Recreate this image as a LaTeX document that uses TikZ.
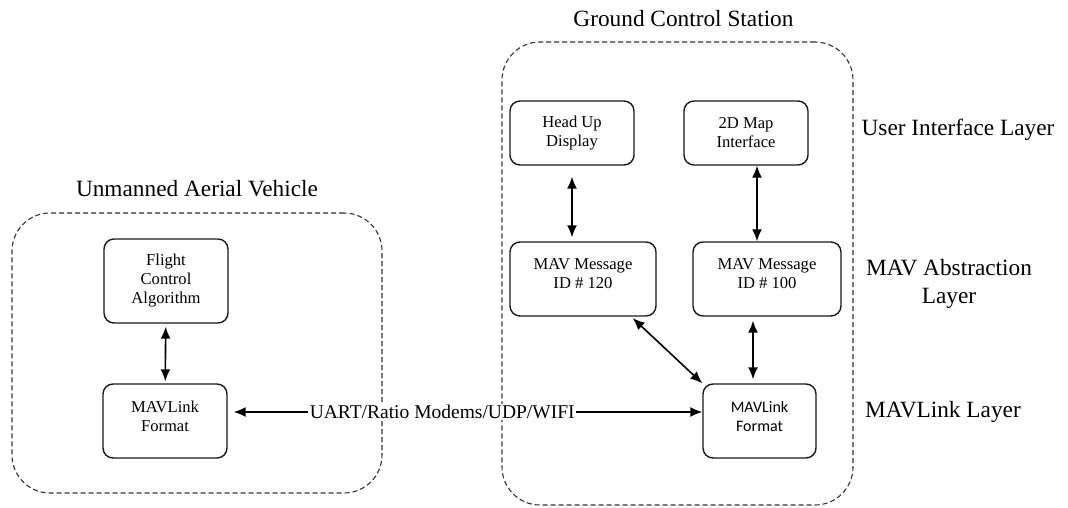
\documentclass[tikz,border=0pt]{standalone}
\usepackage{fontspec}
\setmainfont{Liberation Serif}
\newfontfamily\calibri{Carlito}
\usetikzlibrary{positioning,arrows.meta}
\begin{document}
\begin{tikzpicture}[x=1pt,y=-1pt,
  group/.style={draw=black!80,line width=1.1pt,dash pattern=on 5pt off 3pt,rounded corners=38pt},
  block/.style={draw=black!90,line width=1.4pt,rounded corners=10pt,align=center,inner sep=0pt,
    font=\fontsize{16.6}{19}\selectfont},
  title/.style={inner sep=0pt,align=center,font=\fontsize{23.3}{28}\selectfont},
  link/.style={<->,>={Latex[length=12pt,width=10pt]},line width=1.6pt}]
\useasboundingbox (0,0) rectangle (1068,508);
% the two sides
\node[group,minimum width=370pt,minimum height=280pt] (uav) at (197,353) {};
\node[group,minimum width=351pt,minimum height=463pt] (gcs) at (677.5,273.5) {};
\node[title,above=15pt of uav] (uavtitle) {Unmanned Aerial Vehicle};
\node[title,above=15pt of gcs,xshift=6pt] (gcstitle) {Ground Control Station};

\node[block,minimum width=124pt,minimum height=84pt] (fca) at (166,281) {Flight\\Control\\Algorithm};
\node[block,minimum width=124pt,minimum height=74pt] (link1) at (165,421) {MAVLink\\Format\\[-10pt]};
\node[block,minimum width=124pt,minimum height=64pt] (hud) at (572,133) {Head Up\\Display};
\node[block,minimum width=124pt,minimum height=64pt] (map) at (746,133) {2D Map\\Interface};
\node[block,minimum width=146pt,minimum height=74pt] (m120) at (583,279) {MAV Message\\ID \# 120\\[-8pt]};
\node[block,minimum width=148pt,minimum height=74pt] (m100) at (767,279) {MAV Message\\ID \# 100\\[-8pt]};
\node[block,minimum width=113pt,minimum height=74pt,font=\calibri\fontsize{16}{19}\selectfont] (link2) at (759.5,421) {MAVLink\\Format\\[-10pt]};

% layers
\node[title] (uilayer) at (958,130) {User Interface Layer};
\node[title] (abslayer) at (949,284) {MAV Abstraction\\Layer};
\node[title] (linklayer) at (943,412) {MAVLink Layer};

\draw[link,shorten <=3pt,shorten >=2pt] (fca) -- (link1);
\draw[link,shorten <=11pt,shorten >=4pt] (hud.south) -- (hud.south |- m120.north);
\draw[link] ([xshift=11pt]map.south) -- ([xshift=11pt]map.south |- m100.north);
\draw[link,shorten <=4pt,shorten >=4pt] ([xshift=-6.5pt]link2.north) -- ([xshift=-6.5pt]link2.north |- m100.south);
\draw[link,shorten <=2pt] (m120.-38) -- (link2.north west);
\draw[link,shorten <=6pt] ([yshift=9pt]link1.east) -- node[pos=0.452,fill=white,inner sep=1.5pt,font=\fontsize{19.5}{22}\selectfont] (medium) {UART/Ratio Modems/UDP/WIFI} ([yshift=9pt]link1.east -| link2.west);
\end{tikzpicture}
\end{document}
